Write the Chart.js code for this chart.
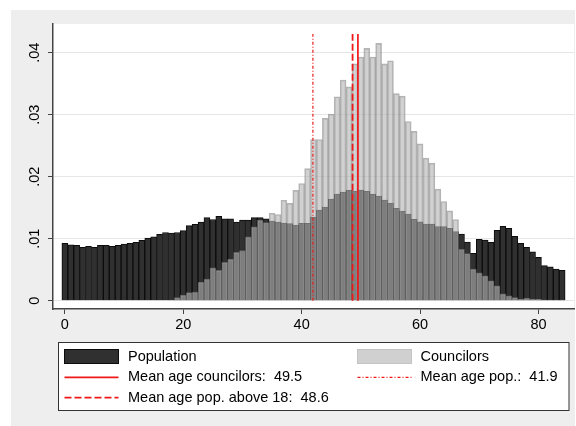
<!DOCTYPE html>
<html>
<head>
<meta charset="utf-8">
<script src="https://cdn.jsdelivr.net/npm/chart.js@4/dist/chart.umd.min.js"></script>
<style>
    html, body { margin: 0; padding: 0; background: #ffffff; }
    #chart { display: block; }
</style>
</head>
<body>
<canvas id="chart" width="576" height="426"></canvas>
<script>
// ages 0..84, one bin per year
const ages = Array.from({ length: 85 }, (_, i) => i);

// density of the population by age
const population = [
    .00925, .00903, .00892, .0086, .00876, .0086, .00892, .00892, .00876, .00892,
    .00914, .00925, .0094, .00973, .0101, .0103, .0107, .0110, .0109, .0110,
    .0113, .0121, .0123, .0127, .0134, .0131, .0136, .0132, .0132, .0127,
    .0130, .0130, .0134, .0134, .0132, .01285, .0127, .01253, .01242, .01215,
    .01247, .01247, .01349, .01462, .01511, .0164, .0172, .01753, .0178, .01769,
    .01785, .01763, .0172, .01688, .01624, .0157, .01489, .01446, .01398, .01312,
    .01274, .01237, .01237, .01194, .01194, .01167, .01113, .01075, .00946, .00763,
    .00989, .00978, .00941, .01134, .01199, .01167, .01038, .00925, .0086, .0079,
    .00699, .00565, .00548, .00511, .00489
];

// density of the councilors by age
const councilors = [
    0, 0, 0, 0, 0, 0, 0, 0, 0, 0,
    0, 0, 0, 0, 0, 0, 0, 0, .0001, .0005,
    .0009, .0013, .0014, .0030, .0035, .0053, .0049, .0062, .0067, .0078,
    .0081, .0103, .0119, .0130, .0126, .0141, .0139, .0162, .0157, .0178,
    .0189, .0213, .0260, .0260, .0294, .0301, .0329, .0356, .0345, .0382,
    .0393, .0407, .0393, .0415, .0382, .0387, .0334, .0330, .0289, .0273,
    .0253, .0230, .0222, .0180, .0160, .0145, .0131, .0083, .0076, .0051,
    .0045, .0040, .0032, .0024, .0011, .0008, .0005, .0002, .0004, .0002,
    .0002, .0001, .0001, .0001, .0001
];

// mean ages shown as vertical lines
const meanCouncilors = 49.5;
const meanPop = 41.9;
const meanPopAdult = 48.6;
const meanLineTop = 0.043;

const xTicks = [0, 20, 40, 60, 80];
const yTicks = [0, .01, .02, .03, .04];

const FONT = '"Liberation Sans", Arial, sans-serif';
const RED = 'rgb(240, 25, 25)';
const POP_FILL = 'rgb(48, 48, 48)';
const POP_BORDER = 'rgb(12, 12, 12)';
const COUN_FILL = 'rgba(178, 178, 178, 0.6)';
const COUN_BORDER = 'rgba(130, 130, 130, 0.6)';

const meanLines = [
    { value: meanCouncilors, dash: [], width: 1.7, label: `Mean age councilors:  ${meanCouncilors}` },
    { value: meanPop, dash: [3, 2, 1, 2], width: 1.2, label: `Mean age pop.:  ${meanPop}` },
    { value: meanPopAdult, dash: [7, 3], width: 1.8, label: `Mean age pop. above 18:  ${meanPopAdult}` },
];

// gray page background and white plot region
const backgroundPlugin = {
    id: 'background',
    beforeDraw(chart) {
        const { ctx, chartArea } = chart;
        ctx.save();
        ctx.fillStyle = '#ffffff';
        ctx.fillRect(0, 0, chart.width, chart.height);
        ctx.fillStyle = '#eeeeee';
        ctx.fillRect(11, 10, 564, 416);
        ctx.fillStyle = '#ffffff';
        ctx.fillRect(chartArea.left, chartArea.top, chartArea.right - chartArea.left, chartArea.bottom - chartArea.top);
        ctx.restore();
    }
};

// vertical mean lines
const meanLinesPlugin = {
    id: 'meanLines',
    afterDatasetsDraw(chart) {
        const { ctx, scales } = chart;
        const y0 = scales.y.getPixelForValue(0);
        const y1 = scales.y.getPixelForValue(meanLineTop);
        ctx.save();
        ctx.strokeStyle = RED;
        meanLines.forEach(l => {
            const x = scales.x.getPixelForValue(l.value);
            ctx.lineWidth = l.width;
            ctx.setLineDash(l.dash);
            ctx.beginPath();
            ctx.moveTo(x, y0);
            ctx.lineTo(x, y1);
            ctx.stroke();
        });
        ctx.restore();
    }
};

// legend box under the plot
const legendPlugin = {
    id: 'stataLegend',
    afterDraw(chart) {
        const ctx = chart.ctx;
        ctx.save();
        ctx.fillStyle = '#ffffff';
        ctx.fillRect(58.5, 342.5, 510.5, 68);
        ctx.strokeStyle = '#333333';
        ctx.lineWidth = 1;
        ctx.strokeRect(58.5, 342.5, 510.5, 68);

        ctx.font = `14.5px ${FONT}`;
        ctx.fillStyle = '#000000';
        ctx.textBaseline = 'middle';

        const col1 = { sx: 64.5, tx: 128 };
        const col2 = { sx: 357.5, tx: 420.5 };
        const sw = 54;
        const rows = [356.5, 377.3, 397.6];

        // population swatch
        ctx.fillStyle = POP_FILL;
        ctx.fillRect(col1.sx, 349.5, sw, 14);
        ctx.strokeStyle = POP_BORDER;
        ctx.strokeRect(col1.sx, 349.5, sw, 14);
        ctx.fillStyle = '#000000';
        ctx.fillText('Population', col1.tx, rows[0]);

        // councilors swatch
        ctx.fillStyle = '#d0d0d0';
        ctx.fillRect(col2.sx, 349.5, sw, 14);
        ctx.strokeStyle = '#c4c4c4';
        ctx.strokeRect(col2.sx, 349.5, sw, 14);
        ctx.fillStyle = '#000000';
        ctx.fillText('Councilors', col2.tx, rows[0]);

        const slots = [
            { col: col1, y: rows[1] },
            { col: col2, y: rows[1] },
            { col: col1, y: rows[2] },
        ];
        meanLines.forEach((l, i) => {
            const s = slots[i];
            ctx.strokeStyle = RED;
            ctx.lineWidth = l.width;
            ctx.setLineDash(l.dash);
            ctx.beginPath();
            ctx.moveTo(s.col.sx, s.y);
            ctx.lineTo(s.col.sx + sw, s.y);
            ctx.stroke();
            ctx.setLineDash([]);
            ctx.fillStyle = '#000000';
            ctx.fillText(l.label, s.col.tx, s.y);
        });
        ctx.restore();
    }
};

const ctx = document.getElementById('chart').getContext('2d');

const myChart = new Chart(ctx, {
    type: 'bar',
    data: {
        datasets: [{
            label: 'Councilors',
            data: ages.map((a, i) => ({ x: a, y: councilors[i] })),
            backgroundColor: COUN_FILL,
            borderColor: COUN_BORDER,
            borderWidth: 1,
            order: 0,
        },
        {
            label: 'Population',
            data: ages.map((a, i) => ({ x: a, y: population[i] })),
            backgroundColor: POP_FILL,
            borderColor: POP_BORDER,
            borderWidth: 1,
            order: 1,
        }]
    },
    options: {
        responsive: false,
        devicePixelRatio: 1,
        animation: false,
        grouped: false,
        barPercentage: 1,
        categoryPercentage: 1,
        layout: {
            padding: { left: 0, top: 24, right: 2, bottom: 0 }
        },
        plugins: {
            legend: { display: false },
            tooltip: { enabled: false },
        },
        scales: {
            x: {
                type: 'linear',
                offset: false,
                min: -2,
                max: 86,
                afterBuildTicks: (scale) => { scale.ticks = xTicks.map(v => ({ value: v })); },
                afterFit: (scale) => { scale.height = 117; },
                grid: {
                    offset: false,
                    drawOnChartArea: false,
                    tickLength: 5,
                    tickColor: '#444444',
                },
                border: { color: '#444444', width: 1.5 },
                ticks: {
                    color: '#000000',
                    padding: 2,
                    maxRotation: 0,
                    font: { family: FONT, size: 14.5 },
                },
            },
            y: {
                type: 'linear',
                min: -0.00134,
                max: 0.04463,
                afterBuildTicks: (scale) => { scale.ticks = yTicks.map(v => ({ value: v })); },
                afterFit: (scale) => { scale.width = 53; },
                grid: {
                    color: '#e6e6e6',
                    lineWidth: 1,
                    tickLength: 5,
                    tickColor: '#444444',
                },
                border: { color: '#444444', width: 1.5 },
                ticks: {
                    color: '#000000',
                    padding: 3,
                    minRotation: 90,
                    maxRotation: 90,
                    crossAlign: 'center',
                    font: { family: FONT, size: 14.5 },
                    callback: (v) => v === 0 ? '0' : v.toFixed(2).replace(/^0/, ''),
                },
            }
        }
    },
    plugins: [backgroundPlugin, meanLinesPlugin, legendPlugin]
});
</script>
</body>
</html>
